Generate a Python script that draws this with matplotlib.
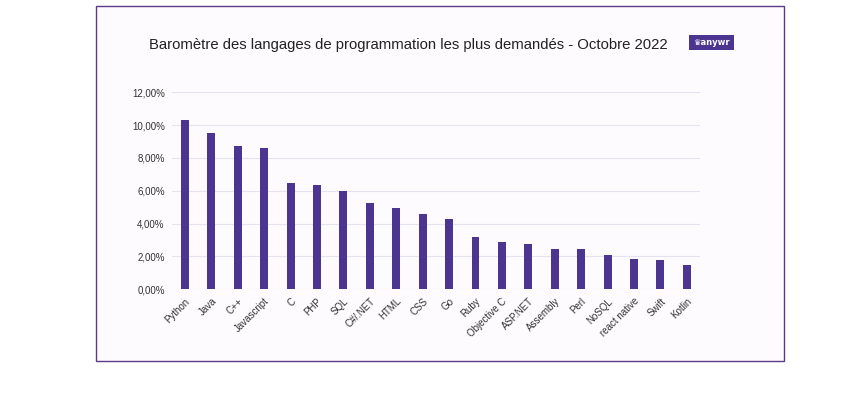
import matplotlib
matplotlib.use("Agg")
import matplotlib.pyplot as plt
from matplotlib.patches import Rectangle
from matplotlib.ticker import FuncFormatter

languages = ["Python", "Java", "C++", "Javascript", "C", "PHP", "SQL", "C#/.NET",
             "HTML", "CSS", "Go", "Ruby", "Objective C", "ASP.NET", "Assembly",
             "Perl", "NoSQL", "react native", "Swift", "Kotlin"]
shares = [10.29, 9.50, 8.71, 8.59, 6.49, 6.37, 5.99, 5.26, 4.97, 4.57,
          4.28, 3.19, 2.88, 2.76, 2.47, 2.47, 2.07, 1.85, 1.77, 1.50]

title = "Baromètre des langages de programmation les plus demandés - Octobre 2022"
purple = "#4b3590"

fig = plt.figure(figsize=(8.42, 3.94), dpi=100)
fig.patch.set_facecolor("white")

# framed card
W, H = 842, 394
card = Rectangle((95.5 / W, 1 - 361 / H), (784 - 95.5) / W, (361 - 5.5) / H,
                 transform=fig.transFigure, facecolor="#fdfbfd",
                 edgecolor="#5b3a8a", linewidth=1.0, zorder=-10)
fig.patches.append(card)

ax = fig.add_axes([171.7 / W, 104.7 / H, 528.3 / W, 197 / H])
ax.set_facecolor("none")
x = range(len(languages))
ax.bar(x, shares, width=0.3, color=purple, zorder=3)
ax.set_xlim(-0.5, len(languages) - 0.5)
ax.set_ylim(0, 12)
ax.set_yticks([0, 2, 4, 6, 8, 10, 12])
ax.yaxis.set_major_formatter(FuncFormatter(lambda v, p: f"{v:.2f}%".replace(".", ",")))
ax.grid(axis="y", color="#e6e3f0", linewidth=0.8, zorder=0)
for s in ax.spines.values():
    s.set_visible(False)
ax.tick_params(length=0, labelsize=7, labelcolor="#333333", pad=5)
ax.set_xticks(list(x))
ax.set_xticklabels(languages, rotation=45, ha="right", rotation_mode="anchor",
                   family="Liberation Sans")
for lab in ax.get_yticklabels():
    lab.set_family("Liberation Sans")

fig.text(408.5 / W, 1 - 45 / H, title, ha="center", va="center",
         fontsize=10.7, color="#222222", family="Liberation Sans")

# logo
logo = Rectangle((689 / W, 1 - 50 / H), 45 / W, 15 / H, transform=fig.transFigure,
                 facecolor=purple, edgecolor="none")
fig.patches.append(logo)
fig.text(711.5 / W, 1 - 42.5 / H, "♛anywr", ha="center", va="center",
         fontsize=6, color="white", fontweight="bold", family="DejaVu Sans")

fig.savefig("out.png", dpi=100, facecolor="white")
